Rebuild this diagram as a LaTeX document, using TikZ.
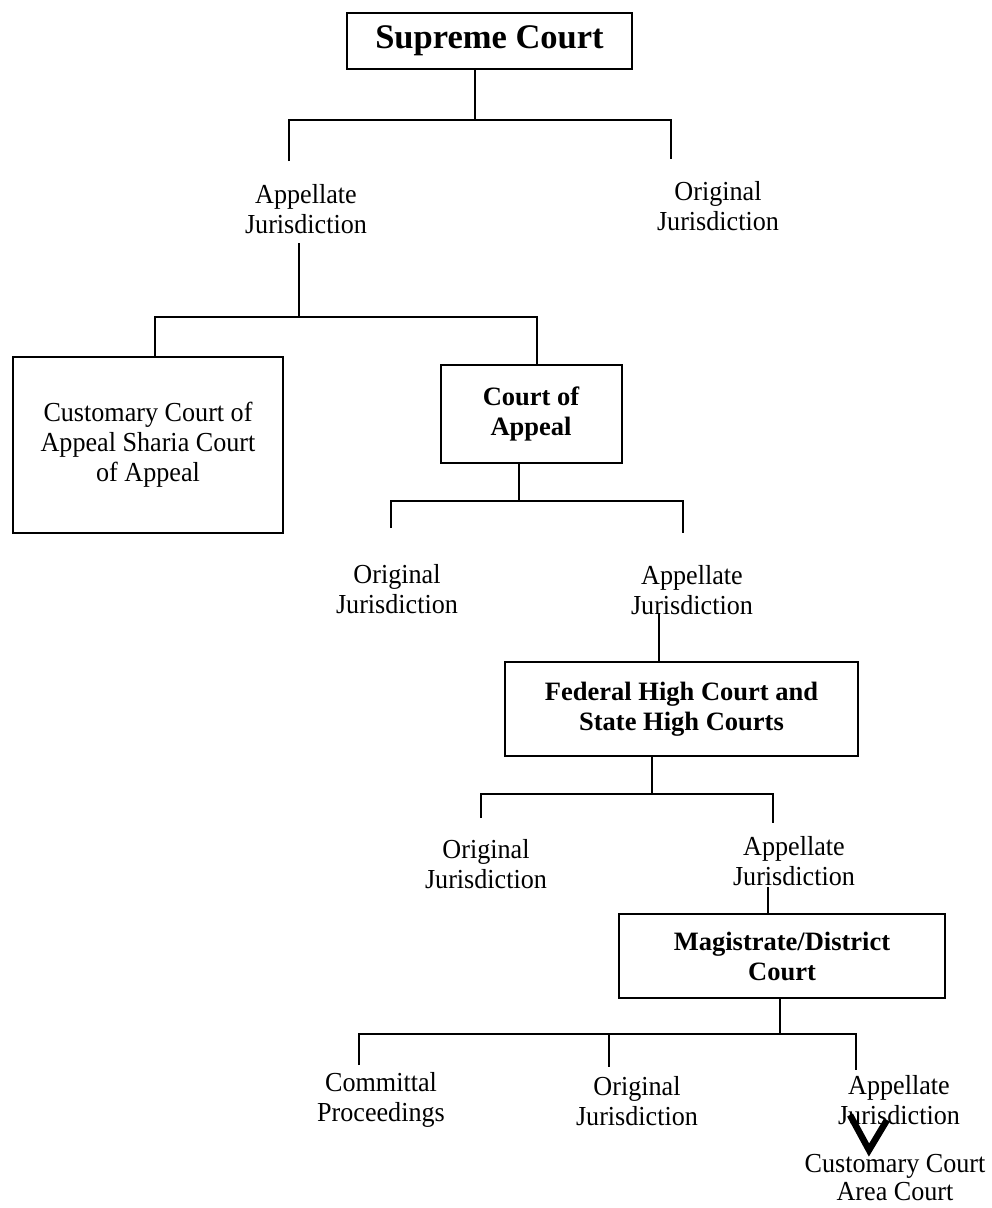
\documentclass[tikz,border=0pt]{standalone}
\usepackage{fontspec}
\setmainfont{Liberation Serif}
\newfontfamily\lblfam[FakeStretch=0.95]{Liberation Serif}
\usetikzlibrary{calc}
\newcommand\lblfont{\lblfam\fontsize{27.5}{30}\selectfont}
\newcommand\tightfont{\lblfam\fontsize{27.5}{28}\selectfont}
\newcommand\boldfont{\fontsize{26.5}{30}\selectfont\bfseries}
\newcommand\supfont{\fontsize{34.5}{40}\selectfont\bfseries}
\tikzset{
  lbl/.style={inner sep=0pt, align=center, font=\lblfont},
  courtbox/.style={draw, line width=2pt, inner sep=0pt, align=center, font=\boldfont},
  ln/.style={line width=1.8pt},
  vmark/.style={line width=6.5pt, miter limit=10}
}
\begin{document}
\begin{tikzpicture}[x=1pt,y=-1pt]
\useasboundingbox (0,0) rectangle (992,1208);

% Supreme Court
\node[courtbox, font=\supfont, minimum width=285pt, minimum height=56pt] (sc) at (489.5,41) {Supreme Court};
\coordinate (t1) at (475,120);
\coordinate (t1l) at (289,161);
\coordinate (t1r) at (671,159);
\draw[ln] (sc.south -| t1) -- (t1);
\draw[ln] (t1l) -- (t1l |- t1) -- (t1r |- t1) -- (t1r);
\node[lbl] (aj1) at (306,209) {Appellate\\Jurisdiction};
\node[lbl] (oj1) at (718,206) {Original\\Jurisdiction};

% Level 2
\coordinate (t2) at (299,317);
\coordinate (t2a) at (299,243);
\coordinate (t2l) at (155,317);
\coordinate (t2r) at (537,317);
\node[draw, line width=2pt, inner sep=0pt, align=center, font=\lblfont, minimum width=270pt, minimum height=176pt] (cust) at (148,445) {Customary Court of\\Appeal Sharia Court\\of Appeal};
\node[courtbox, minimum width=181pt, minimum height=98pt] (coa) at (531,414) {Court of\\Appeal};
\draw[ln] (t2a) -- (t2);
\draw[ln] (cust.north -| t2l) -- (t2l) -- (t2r) -- (coa.north -| t2r);

% Level 3
\coordinate (t3) at (519,501);
\coordinate (t3l) at (391,528);
\coordinate (t3r) at (683,533);
\draw[ln] (coa.south -| t3) -- (t3);
\draw[ln] (t3l) -- (t3l |- t3) -- (t3r |- t3) -- (t3r);
\node[lbl] (oj2) at (397,589) {Original\\Jurisdiction};
\node[lbl] (aj2) at (692,590) {Appellate\\Jurisdiction};

% Level 4
\node[courtbox, minimum width=353pt, minimum height=94pt] (fed) at (681.5,709) {Federal High Court and\\State High Courts};
\coordinate (t4a) at (659,613);
\draw[ln] (t4a) -- (fed.north -| t4a);
\coordinate (t4) at (652,794);
\coordinate (t4l) at (481,818);
\coordinate (t4r) at (773,823);
\draw[ln] (fed.south -| t4) -- (t4);
\draw[ln] (t4l) -- (t4l |- t4) -- (t4r |- t4) -- (t4r);
\node[lbl] (oj3) at (486,864) {Original\\Jurisdiction};
\node[lbl] (aj3) at (794,861) {Appellate\\Jurisdiction};

% Level 5
\node[courtbox, minimum width=326pt, minimum height=84pt] (mag) at (782,956) {Magistrate/District\\Court};
\coordinate (t5a) at (768,887);
\draw[ln] (t5a) -- (mag.north -| t5a);
\coordinate (t5) at (780,1034);
\coordinate (t5l) at (359,1065);
\coordinate (t5m) at (609,1067);
\coordinate (t5r) at (856,1070);
\draw[ln] (mag.south -| t5) -- (t5);
\draw[ln] (t5l) -- (t5l |- t5) -- (t5r |- t5) -- (t5r);
\draw[ln] (t5m |- t5) -- (t5m);
\node[lbl] (cp) at (381,1100) {Committal\\Proceedings};
\node[lbl] (oj4) at (637,1101) {Original\\Jurisdiction};
\node[lbl] (aj4) at (899,1100) {Appellate\\Jurisdiction};
\node[lbl, font=\tightfont] (cc) at (895,1178) {Customary Court\\Area Court};
\coordinate (v1) at (850,1115);
\coordinate (v2) at (869,1150);
\coordinate (v3) at (887,1120);
\draw[vmark] (v1) -- (v2) -- (v3);
\end{tikzpicture}
\end{document}
